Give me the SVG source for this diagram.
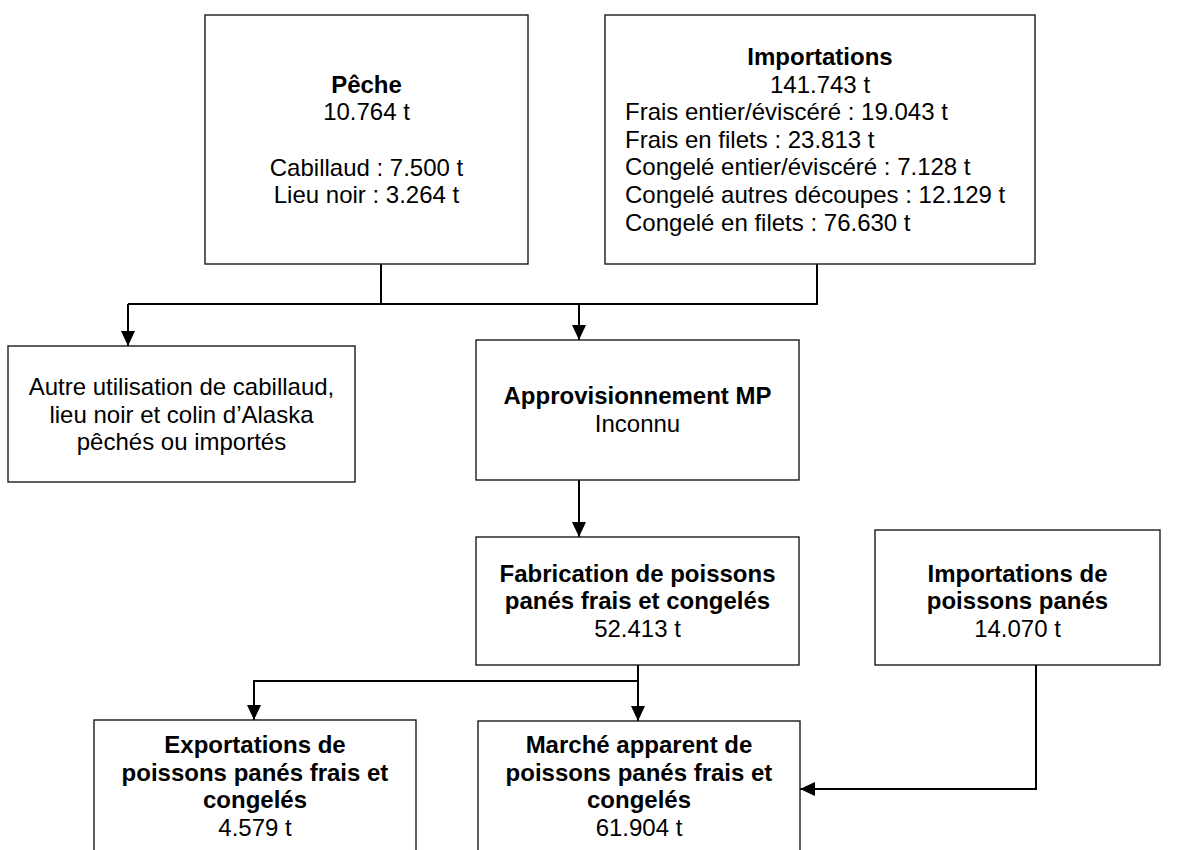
<svg xmlns="http://www.w3.org/2000/svg" width="1185" height="850" viewBox="0 0 1185 850">
  <defs>
    <style>
      .box { fill: #ffffff; stroke: #1a1a1a; stroke-width: 1.4; }
      .wire { fill: none; stroke: #000000; stroke-width: 2; }
      text { font-family: "Liberation Sans", Arial, sans-serif; font-size: 24px; fill: #000000; }
      .c { text-anchor: middle; }
      .b { font-weight: bold; }
    </style>
    <marker id="arrow" viewBox="0 0 15 14" refX="15" refY="7" markerWidth="15" markerHeight="14" markerUnits="userSpaceOnUse" orient="auto">
      <path d="M0,0 L15,7 L0,14 Z" fill="#000000"/>
    </marker>
  </defs>

  <rect width="1185" height="850" fill="#ffffff"/>

  <!-- connectors -->
  <g id="connectors">
    <polyline class="wire" points="381,264 381,304"/>
    <polyline class="wire" points="817,264 817,304 128,304"/>
    <polyline class="wire" points="128,304 128,346" marker-end="url(#arrow)"/>
    <polyline class="wire" points="579,304 579,340" marker-end="url(#arrow)"/>
    <polyline class="wire" points="579,480 579,537" marker-end="url(#arrow)"/>
    <polyline class="wire" points="638,665 638,721" marker-end="url(#arrow)"/>
    <polyline class="wire" points="638,681 254,681 254,720" marker-end="url(#arrow)"/>
    <polyline class="wire" points="1036,665 1036,789 800,789" marker-end="url(#arrow)"/>
  </g>

  <!-- nodes -->
  <g id="peche">
    <rect class="box" x="205" y="15" width="323" height="249"/>
    <text class="c b" x="366.5" y="92.5">Pêche</text>
    <text class="c" x="366.5" y="120">10.764 t</text>
    <text class="c" x="366.5" y="175.5">Cabillaud : 7.500 t</text>
    <text class="c" x="366.5" y="203">Lieu noir : 3.264 t</text>
  </g>

  <g id="importations">
    <rect class="box" x="605" y="15" width="430" height="249"/>
    <text class="c b" x="820" y="65">Importations</text>
    <text class="c" x="820" y="92.6">141.743 t</text>
    <text x="625" y="120.2">Frais entier/éviscéré : 19.043 t</text>
    <text x="625" y="147.8">Frais en filets : 23.813 t</text>
    <text x="625" y="175.4">Congelé entier/éviscéré : 7.128 t</text>
    <text x="625" y="203">Congelé autres découpes : 12.129 t</text>
    <text x="625" y="230.6">Congelé en filets : 76.630 t</text>
  </g>

  <g id="autre-utilisation">
    <rect class="box" x="8" y="346" width="347" height="136"/>
    <text class="c" x="181.5" y="395">Autre utilisation de cabillaud,</text>
    <text class="c" x="181.5" y="422.6">lieu noir et colin d’Alaska</text>
    <text class="c" x="181.5" y="450.2">pêchés ou importés</text>
  </g>

  <g id="approvisionnement">
    <rect class="box" x="476" y="340" width="323" height="140"/>
    <text class="c b" x="637.5" y="404">Approvisionnement MP</text>
    <text class="c" x="637.5" y="431.6">Inconnu</text>
  </g>

  <g id="fabrication">
    <rect class="box" x="476" y="537" width="323" height="128"/>
    <text class="c b" x="637.5" y="581.5">Fabrication de poissons</text>
    <text class="c b" x="637.5" y="609.1">panés frais et congelés</text>
    <text class="c" x="637.5" y="636.7">52.413 t</text>
  </g>

  <g id="importations-panes">
    <rect class="box" x="875" y="530" width="285" height="135"/>
    <text class="c b" x="1017.5" y="581.5">Importations de</text>
    <text class="c b" x="1017.5" y="609.1">poissons panés</text>
    <text class="c" x="1017.5" y="636.7">14.070 t</text>
  </g>

  <g id="exportations">
    <rect class="box" x="94" y="720" width="322" height="150"/>
    <text class="c b" x="255" y="753">Exportations de</text>
    <text class="c b" x="255" y="780.6">poissons panés frais et</text>
    <text class="c b" x="255" y="808.2">congelés</text>
    <text class="c" x="255" y="835.8">4.579 t</text>
  </g>

  <g id="marche-apparent">
    <rect class="box" x="478" y="721" width="322" height="150"/>
    <text class="c b" x="639" y="753">Marché apparent de</text>
    <text class="c b" x="639" y="780.6">poissons panés frais et</text>
    <text class="c b" x="639" y="808.2">congelés</text>
    <text class="c" x="639" y="835.8">61.904 t</text>
  </g>
</svg>
